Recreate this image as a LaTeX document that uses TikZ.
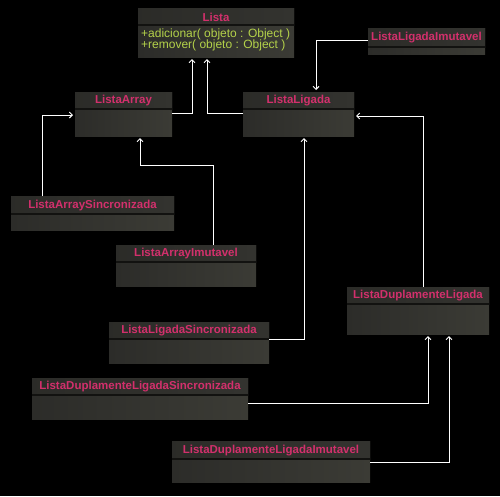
\documentclass[tikz,border=0pt]{standalone}
\usepackage{fontspec}
\setmainfont{Liberation Sans}
\usetikzlibrary{arrows.meta,calc}
\definecolor{boxl}{HTML}{2C2C29}
\definecolor{boxr}{HTML}{3B3B35}
\definecolor{hdr}{HTML}{33332F}
\definecolor{divc}{HTML}{121210}
\definecolor{titlec}{HTML}{D2306C}
\definecolor{methc}{HTML}{B4D24A}
\newcommand\umlclass[7]{%
  \path[left color=boxl, right color=boxr] (#2,#3) rectangle (#5,#6);
  \path[left color=hdr!85!black, right color=hdr] (#2,#3) rectangle (#5,#4);
  \draw[divc, line width=1.2pt] (#2,#4) -- (#5,#4);
  \node[inner sep=0pt, outer sep=0pt, minimum width={#5-#2}, minimum height={#6-#3}] (#1) at ({(#2+#5)/2},{(#3+#6)/2}) {};
  \node[titlestyle] (#1-t) at ({(#2+#5)/2},{(#3+#4)/2+0.5}) {#7};
}
\begin{document}
\begin{tikzpicture}[x=1pt,y=-1pt,
  titlestyle/.style={text=titlec, font=\bfseries\fontsize{11.5}{13}\selectfont, inner sep=0pt},
  arr/.style={draw=white, line width=1pt, -{Straight Barb[length=3pt,width=6pt]}, shorten >=2pt}]
\fill[black] (0,0) rectangle (500,496);
\useasboundingbox (0,0) rectangle (500,496);

\umlclass{lista}{138}{8}{25}{294}{57}{Lista}
\node[anchor=north west, inner sep=0pt, text=methc, align=left,
      font=\fontsize{12}{11.5}\selectfont] (meth) at (141,28.5)
  {+adicionar( objeto : Object )\\+remover( objeto : Object )};

\umlclass{lli}{368}{28}{47}{485}{54}{ListaLigadaImutavel}
\umlclass{la}{75}{92}{109}{172}{136}{ListaArray}
\umlclass{ll}{243}{92}{109}{354}{136}{ListaLigada}
\umlclass{las}{11}{196}{214}{174}{230}{ListaArraySincronizada}
\umlclass{lai}{116}{245}{262}{256}{286}{ListaArrayImutavel}
\umlclass{lls}{109}{322}{339}{269}{363}{ListaLigadaSincronizada}
\umlclass{ldl}{347}{287}{304}{489}{334}{ListaDuplamenteLigada}
\umlclass{ldls}{32}{378}{395}{248}{419}{ListaDuplamenteLigadaSincronizada}
\umlclass{ldli}{172}{441}{459}{370}{482}{ListaDuplamenteLigadaImutavel}

% connectors
\draw[arr] ([yshift=1pt]la.east) -| ([xshift=-24pt]lista.south);
\draw[arr] ([yshift=1pt]ll.west) -| ([xshift=-9pt]lista.south);
\draw[arr] ([yshift=1pt]lli.west) -| ([xshift=17.5pt]ll.north);
\draw[arr] ([xshift=-50.5pt]las.north) |- ([yshift=-1pt]la.west);
\draw[arr] ([xshift=27pt]lai.north) -- ++(0,-80) -| ([xshift=16.5pt]la.south);
\draw[arr] ([yshift=3.5pt]lls.east) -| ([xshift=5.5pt]ll.south);
\draw[arr] ([xshift=5pt]ldl.north) |- ([yshift=-2pt]ll.east);
\draw[arr] ([yshift=-4.5pt]ldls.east) -| ([xshift=10pt]ldl.south);
\draw[arr] ([yshift=-0.5pt]ldli.east) -| ([xshift=31pt]ldl.south);
\end{tikzpicture}
\end{document}
